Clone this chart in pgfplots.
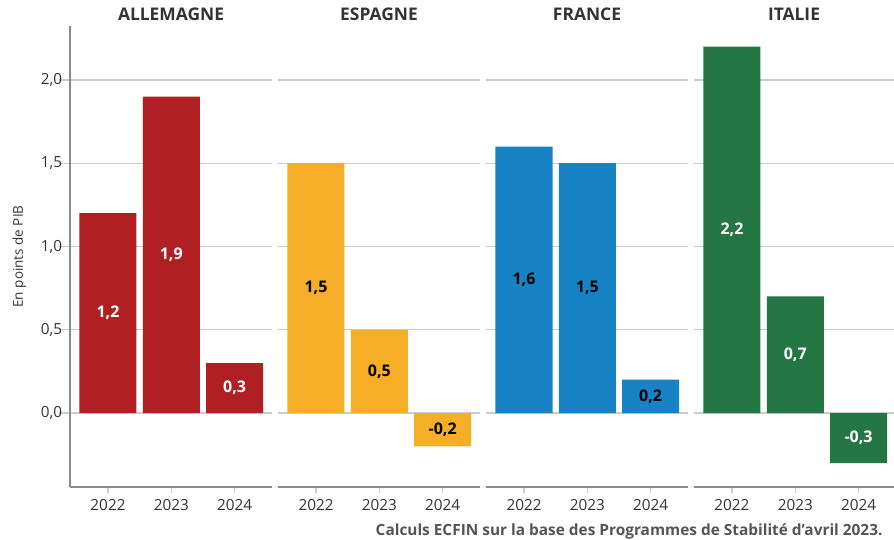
\documentclass[border=0pt]{standalone}
\usepackage{pgfplots}
\pgfplotsset{compat=1.18}
\usepackage{pgfplotstable}
\usepackage{fontspec}
\setmainfont{Open Sans}
\definecolor{cDE}{HTML}{B01F24}
\definecolor{cES}{HTML}{F6AE28}
\definecolor{cFR}{HTML}{1782C4}
\definecolor{cIT}{HTML}{247642}
\definecolor{axisgray}{HTML}{8A8A8A}
\definecolor{gridgray}{HTML}{CCCCCC}
\definecolor{txtgray}{HTML}{333333}
\definecolor{capgray}{HTML}{555555}

\pgfplotstableread{
x y h lab
0 1.2 0.6 1,2
1 1.9 0.95 1,9
2 0.3 0.15 0,3
}\dataDE
\pgfplotstableread{
x y h lab
0 1.5 0.75 1,5
1 0.5 0.25 0,5
2 -0.2 -0.1 -0,2
}\dataES
\pgfplotstableread{
x y h lab
0 1.6 0.8 1,6
1 1.5 0.75 1,5
2 0.2 0.1 0,2
}\dataFR
\pgfplotstableread{
x y h lab
0 2.2 1.1 2,2
1 0.7 0.35 0,7
2 -0.3 -0.15 -0,3
}\dataIT

\tikzset{ptitle/.style={anchor=center, inner sep=0pt, font=\bfseries\fontsize{17.4}{20}\selectfont, text=txtgray}}

\pgfplotsset{
  panel/.style={
    scale only axis, width=202pt, height=461pt,
    xmin=-0.6, xmax=2.59, ymin=-0.444, ymax=2.324,
    axis x line*=bottom, axis y line*=left,
    axis line style={-, draw=axisgray, line width=1.3pt},
    xtick={0,1,2}, xticklabels={2022,2023,2024},
    ytick={0,0.5,1,1.5,2},
    ymajorgrids, grid style={draw=gridgray, line width=1.2pt},
    tick align=outside,
    xtick style={draw=gridgray, line width=1.2pt, /pgfplots/major tick length=6pt},
    ytick style={draw=gridgray, line width=1.2pt, /pgfplots/major tick length=11pt},
    ticklabel style={font=\fontsize{15.3}{17}\selectfont, text=txtgray},
    xticklabel style={yshift=-5pt},
    yticklabel style={/pgf/number format/use comma, /pgf/number format/fixed, /pgf/number format/fixed zerofill, /pgf/number format/precision=1, /pgf/number format/assume math mode=true},
    clip=false,
  },
  hidey/.style={y axis line style={draw=none}, yticklabels={}, ytick style={draw=none}},
  barlab/.style={draw=none, mark=none, nodes near coords, point meta=explicit symbolic,
    nodes near coords style={anchor=center, font=\bfseries\fontsize{16}{18}\selectfont, text=#1}},
}

\begin{document}
\begin{tikzpicture}
\path[use as bounding box] (0,0) rectangle (894pt,540pt);
\begin{axis}[panel, at={(70pt,53pt)}, anchor=south west,
  ylabel={En points de PIB}, ylabel shift=8pt, ylabel style={font=\fontsize{13.5}{16}\selectfont, text=txtgray}]
\addplot[ybar, bar width=57pt, bar shift=0pt, fill=cDE, draw=none] table[x=x,y=y]{\dataDE};
\addplot[barlab=white] table[x=x,y=h,meta=lab]{\dataDE};
\node[ptitle] at (axis description cs:0.5,1.026) {ALLEMAGNE};
\end{axis}
\begin{axis}[panel, hidey, at={(278pt,53pt)}, anchor=south west]
\addplot[ybar, bar width=57pt, bar shift=0pt, fill=cES, draw=none] table[x=x,y=y]{\dataES};
\addplot[barlab=black] table[x=x,y=h,meta=lab]{\dataES};
\node[ptitle] at (axis description cs:0.5,1.026) {ESPAGNE};
\end{axis}
\begin{axis}[panel, hidey, at={(486pt,53pt)}, anchor=south west]
\addplot[ybar, bar width=57pt, bar shift=0pt, fill=cFR, draw=none] table[x=x,y=y]{\dataFR};
\addplot[barlab=black] table[x=x,y=h,meta=lab]{\dataFR};
\node[ptitle] at (axis description cs:0.5,1.026) {FRANCE};
\end{axis}
\begin{axis}[panel, hidey, at={(694pt,53pt)}, anchor=south west, width=200pt, xmax=2.56]
\addplot[ybar, bar width=57pt, bar shift=0pt, fill=cIT, draw=none] table[x=x,y=y]{\dataIT};
\addplot[barlab=white] table[x=x,y=h,meta=lab]{\dataIT};
\node[ptitle] at (axis description cs:0.5,1.026) {ITALIE};
\end{axis}
\node[anchor=base east, font=\bfseries\fontsize{15.4}{17}\selectfont, text=capgray] at (886pt,4pt) {Calculs ECFIN sur la base des Programmes de Stabilité d’avril 2023.};
\end{tikzpicture}
\end{document}
